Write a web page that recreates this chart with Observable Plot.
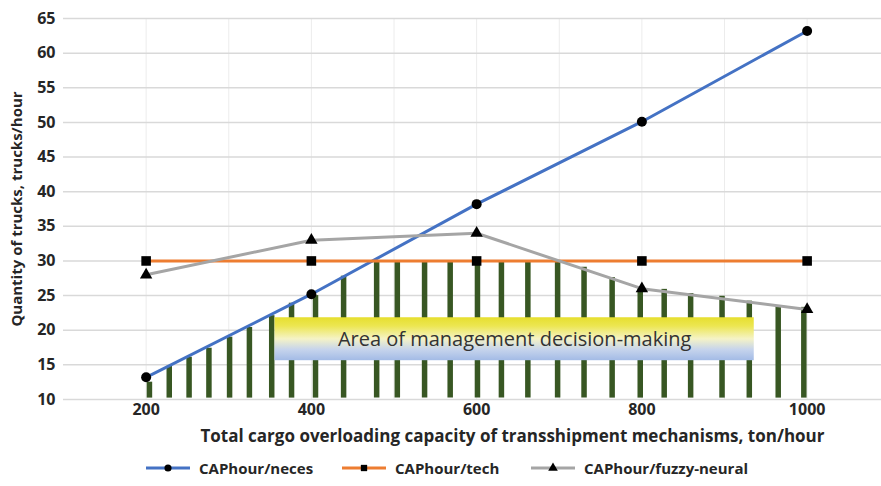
<!DOCTYPE html>
<html>
<head>
<meta charset="utf-8">
<script src="https://cdn.jsdelivr.net/npm/d3@7"></script>
<script src="https://cdn.jsdelivr.net/npm/@observablehq/plot@0.6"></script>
<style>
  html, body { margin: 0; padding: 0; background: #fff; }
  #chart { width: 881px; }
  .legend { position: relative; height: 34px;
    font-family: "Open Sans", sans-serif; font-weight: 700; font-size: 15px; color: #262626; }
  .legend .item { display: flex; align-items: center; position: absolute; top: 6px; }
  .legend svg { margin-right: 9px; }
</style>
</head>
<body>
<div id="chart"></div>
<script>
// Capacity of transshipment mechanisms, ton/hour
const capacity = [200, 400, 600, 800, 1000];
// Required number of trucks per hour
const neces = [13.2, 25.2, 38.2, 50.1, 63.2];
// Technical limit of trucks per hour
const tech = [30, 30, 30, 30, 30];
// Fuzzy-neural estimate of trucks per hour
const fuzzy = [28, 33, 34, 26, 23];

// Hatching of the feasible region: position and height of each stripe
const stripeX = [204, 228, 252, 276, 301, 325, 352, 376, 405, 439, 479, 504, 537, 568,
  601, 630, 662, 698, 730, 764, 798, 827, 859, 897, 930, 965, 996];
const stripeTop = [12.5, 14.8, 16.1, 17.4, 19.0, 20.4, 22.1, 23.9, 25.0, 27.8, 30, 30, 30, 30,
  30, 30, 30, 30, 29.1, 27.6, 26.3, 25.9, 25.3, 24.9, 24.2, 23.4, 23.3];
const stripeBase = 10.2;

// Highlighted decision area
const areaLabel = "Area of management decision-making";
const areaBox = [{x1: 356, x2: 936, y1: 15.6, y2: 21.8}];

const xTicks = [200, 400, 600, 800, 1000];
const yTicks = d3.range(10, 66, 5);
const xLabel = "Total cargo overloading capacity of transshipment mechanisms, ton/hour";
const yLabel = "Quantity of trucks, trucks/hour";

const series = [
  {name: "CAPhour/neces", values: neces, color: "#4472C4", symbol: "circle", r: 5},
  {name: "CAPhour/tech", values: tech, color: "#ED7D31", symbol: "square", r: 5.4},
  {name: "CAPhour/fuzzy-neural", values: fuzzy, color: "#A5A5A5", symbol: "triangle", r: 4.6}
];

const stripes = stripeX.map((x, i) => ({x, top: stripeTop[i]}));

const textColor = "#262626";
const font = "Open Sans, sans-serif";

// Gradient definition for the decision area
const gradientDefs = () => {
  const svg = d3.create("svg:defs");
  const g = svg.append("linearGradient").attr("id", "areaGrad").attr("x1", 0).attr("y1", 0).attr("x2", 0).attr("y2", 1);
  g.append("stop").attr("offset", "0%").attr("stop-color", "#e6df2e");
  g.append("stop").attr("offset", "20%").attr("stop-color", "#ece651");
  g.append("stop").attr("offset", "50%").attr("stop-color", "#f5f3c6");
  g.append("stop").attr("offset", "75%").attr("stop-color", "#c6d4ec");
  g.append("stop").attr("offset", "100%").attr("stop-color", "#a3bbe6");
  return svg.node();
};

const chart = Plot.plot({
  width: 881,
  height: 452,
  marginLeft: 63,
  marginRight: 0,
  marginTop: 18,
  marginBottom: 53,
  style: {fontFamily: font, fontSize: "16px", fontWeight: 700, color: textColor, background: "#fff"},
  x: {domain: [100, 1090]},
  y: {domain: [10, 65]},
  marks: [
    gradientDefs,
    Plot.gridX(d3.range(200, 1001, 100), {stroke: "#ececec", strokeOpacity: 1, strokeWidth: 1}),
    Plot.gridY(yTicks, {stroke: "#d9d9d9", strokeOpacity: 1, strokeWidth: 1.5}),
    Plot.ruleX(stripes, {x: "x", y1: stripeBase, y2: "top", stroke: "#385723", strokeWidth: 5.5}),
    Plot.rect(areaBox, {x1: "x1", x2: "x2", y1: "y1", y2: "y2", fill: "url(#areaGrad)"}),
    Plot.text(areaBox, {x: d => (d.x1 + d.x2) / 2, y: d => (d.y1 + d.y2) / 2, text: () => areaLabel,
      fontSize: 20, fontWeight: 400, fill: "#333"}),
    ...series.map(s => Plot.line(capacity, {x: d => d, y: (d, i) => s.values[i], stroke: s.color, strokeWidth: 3})),
    ...series.map(s => Plot.dot(capacity, {x: d => d, y: (d, i) => s.values[i], symbol: s.symbol, r: s.r, fill: "#000", stroke: "none"})),
    Plot.axisX(xTicks, {tickSize: 0, tickPadding: 4, label: null, tickFormat: d => String(d), fontSize: 16, fontWeight: 700, fill: textColor}),
    Plot.axisY(yTicks, {tickSize: 0, tickPadding: 8, label: null, fontSize: 16, fontWeight: 700, fill: textColor}),
    Plot.text([xLabel], {frameAnchor: "bottom", dy: 42, dx: 40, text: d => d, fontSize: 17, fontWeight: 700, fill: textColor}),
    Plot.text([yLabel], {frameAnchor: "left", dx: -46, text: d => d, rotate: -90, textAnchor: "middle", fontSize: 15, fontWeight: 700, fill: textColor})
  ]
});

const container = document.getElementById("chart");
container.appendChild(chart);

// Legend below the chart
const legend = document.createElement("div");
legend.className = "legend";
const legendX = [146, 342, 531];
series.forEach((s, i) => {
  const item = document.createElement("div");
  item.className = "item";
  item.style.left = legendX[i] + "px";
  const sw = d3.create("svg").attr("width", 44).attr("height", 14);
  sw.append("line").attr("x1", 0).attr("x2", 44).attr("y1", 7).attr("y2", 7).attr("stroke", s.color).attr("stroke-width", 3);
  sw.append("path").attr("transform", "translate(22,7)").attr("fill", "#000")
    .attr("d", d3.symbol(s.symbol === "circle" ? d3.symbolCircle : s.symbol === "square" ? d3.symbolSquare : d3.symbolTriangle, 40)());
  item.appendChild(sw.node());
  const label = document.createElement("span");
  label.textContent = s.name;
  item.appendChild(label);
  legend.appendChild(item);
});
container.appendChild(legend);
</script>
</body>
</html>
